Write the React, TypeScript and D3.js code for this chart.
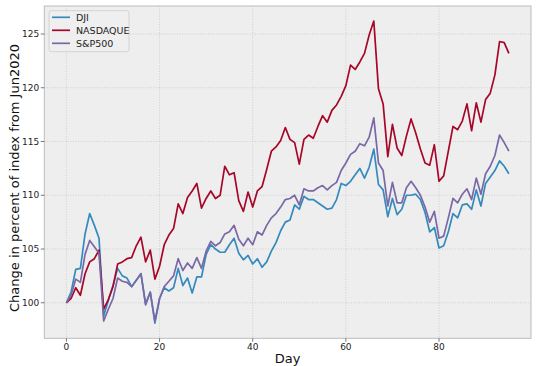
import React from "react";
import * as d3 from "d3";

// daily index level, % of the Jun 2020 starting value
const dji = [
  100, 101, 103.1, 103.2, 106.4, 108.3, 107.2, 106, 98.8, 100.2, 101.6, 103.2,
  102.5, 102.3, 101.5, 102.1, 102.7, 99.9, 101, 98.1, 100.4, 101.4, 101.1, 101.4,
  103.2, 101.6, 102.3, 100.9, 102.4, 102.4, 104.5, 105.4, 105, 104.7, 104.7, 105.4,
  106, 104.6, 104, 104.4, 103.6, 104.1, 103.3, 103.8, 104.8, 105.6, 106.7, 107.5,
  107.7, 109.1, 108.7, 109.9, 109.6, 109.6, 109.3, 109, 108.7, 108.8, 109.6, 111.1,
  110.9, 111.3, 111.9, 112.5, 111.6, 112.6, 114.3, 111, 110.5, 108, 109.7, 108.2,
  108.7, 110, 110, 110.1, 109.6, 108.4, 106.6, 107, 105.1, 105.3, 106.6, 108.3,
  107.9, 109.1, 109.2, 108.7, 110.5, 109, 111.1, 111.7, 112.3, 113.2, 112.7, 112,
];
const nasdaq = [
  100, 100.4, 101.4, 100.7, 102.7, 103.8, 104.1, 104.9, 99.4, 100.3, 101.5, 103.6,
  103.8, 104.1, 104.2, 105.3, 106.1, 103.8, 104.9, 102.2, 103.4, 105.4, 106.3, 106.9,
  109.2, 108.3, 109.8, 110.4, 111.1, 108.8, 109.7, 110.4, 109.7, 110, 112.7, 111.9,
  112.1, 109.5, 108.5, 110.3, 108.9, 110.4, 110.8, 112.4, 114.1, 114.5, 115.1, 116.3,
  115.2, 114.9, 112.9, 115.2, 115.6, 115.3, 116.4, 117.4, 116.8, 117.9, 118.4, 119.2,
  120.2, 122.1, 121.7, 122.4, 123.2, 124.9, 126.2, 119.9, 118.5, 113.6, 116.6, 114.4,
  113.7, 115.5, 117.1, 115.8, 114.3, 113, 112.8, 114.7, 111.3, 111.8, 114.1, 116.4,
  116.1, 116.9, 118.5, 116, 118.6, 116.8, 118.9, 119.5, 121.2, 124.3, 124.2, 123.2,
];
const sp500 = [
  100, 100.7, 102.2, 101.9, 104.5, 105.8, 105.2, 104.6, 98.3, 99.4, 100.4, 102.3,
  102, 101.9, 101.5, 102.1, 102.7, 99.8, 101, 98.3, 100.4, 101.5, 102, 102.5,
  104.1, 103, 103.7, 103.2, 104.2, 103.2, 104.8, 105.7, 105.3, 105.6, 106.4, 106.6,
  107.2, 105.9, 105.3, 106, 105.4, 106.6, 106.3, 107.2, 107.9, 108.3, 108.9, 109.6,
  109.7, 110, 109.1, 110.6, 110.4, 110.4, 110.7, 110.9, 110.5, 110.9, 111.2, 112.3,
  113, 113.8, 114.1, 114.8, 114.6, 115.4, 117.2, 113, 112.3, 109, 111.2, 109.3,
  109.3, 110.7, 111.3, 110.7, 110, 108.9, 107.5, 108.5, 106, 106.2, 107.9, 109.7,
  109.3, 110.1, 110.6, 109.6, 111.6, 110.1, 112, 112.7, 113.7, 115.6, 114.9, 114.1,
];

const seriesNames = ["DJI", "NASDAQUE", "S&P500"];
const seriesColors = ["#348ABD", "#A60628", "#7A68A6"];
const xTicks = [0, 20, 40, 60, 80];
const yTicks = [100, 105, 110, 115, 120, 125];

const W = 537;
const H = 366;
const left = 44.3, right = 531, top = 6, bottom = 338.3;
const FONT = "'DejaVu Sans', sans-serif";

export default function App() {
  const all = [dji, nasdaq, sp500];
  const n = dji.length;
  // matplotlib-style 5% margins
  const xPad = (n - 1) * 0.05;
  const [lo, hi] = d3.extent(all.flat()) as [number, number];
  const yPad = (hi - lo) * 0.05;

  const x = d3.scaleLinear().domain([-xPad, n - 1 + xPad]).range([left, right]);
  const y = d3.scaleLinear().domain([lo - yPad, hi + yPad]).range([bottom, top]);

  const line = d3
    .line<number>()
    .x((_, i) => x(i))
    .y((d) => y(d));

  return (
    <svg
      width={W}
      height={H}
      style={{ position: "absolute", left: 0, top: 0, background: "#fff" }}
      fontFamily={FONT}
    >
      <rect x={left} y={top} width={right - left} height={bottom - top} fill="#eeeeee" />

      {/* grid */}
      {xTicks.map((t) => (
        <line key={"gx" + t} x1={x(t)} x2={x(t)} y1={top} y2={bottom}
          stroke="#c2c2c2" strokeWidth={0.7} strokeDasharray="1 1.6" />
      ))}
      {yTicks.map((t) => (
        <line key={"gy" + t} x1={left} x2={right} y1={y(t)} y2={y(t)}
          stroke="#c2c2c2" strokeWidth={0.7} strokeDasharray="1 1.6" />
      ))}

      {/* series */}
      {all.map((s, i) => (
        <path key={seriesNames[i]} d={line(s) ?? ""} fill="none"
          stroke={seriesColors[i]} strokeWidth={1.7} strokeLinejoin="round" />
      ))}

      {/* frame */}
      <rect x={left} y={top} width={right - left} height={bottom - top}
        fill="none" stroke="#bcbcbc" strokeWidth={1} />

      {/* x axis */}
      {xTicks.map((t) => (
        <g key={"tx" + t}>
          <line x1={x(t)} x2={x(t)} y1={bottom} y2={bottom + 3.5} stroke="#555" strokeWidth={0.8} />
          <text x={x(t)} y={bottom + 12} textAnchor="middle" fontSize={9} fill="#222">{t}</text>
        </g>
      ))}
      {/* y axis */}
      {yTicks.map((t) => (
        <g key={"ty" + t}>
          <line x1={left - 3.5} x2={left} y1={y(t)} y2={y(t)} stroke="#555" strokeWidth={0.8} />
          <text x={left - 5} y={y(t) + 3.2} textAnchor="end" fontSize={9} fill="#222">{t}</text>
        </g>
      ))}

      <text x={(left + right) / 2} y={363} textAnchor="middle" fontSize={13} fill="#111">Day</text>
      <text transform={`translate(19,178) rotate(-90)`} textAnchor="middle"
        fontSize={13} fill="#111">Change in percent of index from Jun2020</text>

      {/* legend */}
      <rect x={49} y={10.7} width={80} height={41} rx={2.5} fill="#eeeeee" fillOpacity={0.85}
        stroke="#cccccc" strokeWidth={0.8} />
      {seriesNames.map((name, i) => {
        const cy = 17.3 + i * 13;
        return (
          <g key={"lg" + name}>
            <line x1={52} x2={70} y1={cy} y2={cy} stroke={seriesColors[i]} strokeWidth={1.7} />
            <text x={76} y={cy + 3.3} fontSize={9.5} fill="#222">{name}</text>
          </g>
        );
      })}
    </svg>
  );
}
